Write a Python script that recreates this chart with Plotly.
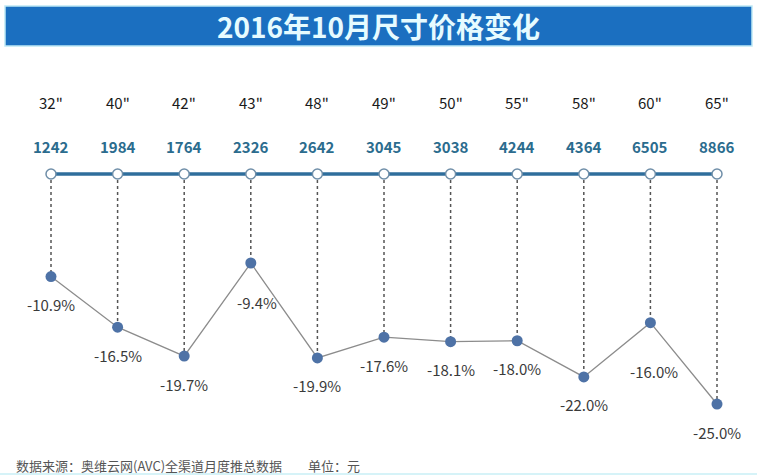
import plotly.graph_objects as go

sizes = ['32"', '40"', '42"', '43"', '48"', '49"', '50"', '55"', '58"', '60"', '65"']
prices = [1242, 1984, 1764, 2326, 2642, 3045, 3038, 4244, 4364, 6505, 8866]
changes = [-10.9, -16.5, -19.7, -9.4, -19.9, -17.6, -18.1, -18.0, -22.0, -16.0, -25.0]

title_text = "2016年10月尺寸价格变化"
source_text = "数据来源：奥维云网(AVC)全渠道月度推总数据　　单位：元"

W, H = 757, 476
FONT = "Noto Sans CJK SC"
BASE = 0.45  # level of the blue price line, in % units

x = list(range(len(sizes)))

# label tweaks where the text is pushed away from the line
label_shift = {3: (6, -39), 9: (4, -49)}

fig = go.Figure()

# dashed drops from the price line to each point
drop_x, drop_y = [], []
for i, c in zip(x, changes):
    drop_x += [i, i, None]
    drop_y += [BASE, c, None]
fig.add_trace(go.Scatter(x=drop_x, y=drop_y, mode="lines",
                         line=dict(color="#555555", width=1.5, dash="dot"),
                         hoverinfo="skip"))

# blue price line with hollow markers
fig.add_trace(go.Scatter(x=x, y=[BASE] * len(x), mode="lines+markers",
                         line=dict(color="#2f6e9c", width=3.5),
                         marker=dict(size=10, color="white",
                                     line=dict(color="#6f8ea8", width=1.5)),
                         hoverinfo="skip"))

# change line
fig.add_trace(go.Scatter(x=x, y=changes, mode="lines+markers",
                         line=dict(color="#8c8c8c", width=1.3),
                         marker=dict(size=11, color="#4e72a6"),
                         hoverinfo="skip"))


def py(px):
    # screen pixel row -> paper fraction
    return 1 - px / H


ann = []
for i, (s, p, c) in enumerate(zip(sizes, prices, changes)):
    ann.append(dict(x=i, y=py(102), xref="x", yref="paper", yanchor="middle", text=s,
                    showarrow=False, font=dict(family=FONT, size=15, color="#1a1a1a")))
    ann.append(dict(x=i, y=py(146), xref="x", yref="paper", yanchor="middle",
                    text=f"<b>{p}</b>", showarrow=False,
                    font=dict(family=FONT, size=15, color="#2b6c8e")))
    dx, dy = label_shift.get(i, (0, -28))
    ann.append(dict(x=i, y=c, xref="x", yref="y", yanchor="middle", text=f"{c:.1f}%",
                    showarrow=False, xshift=dx, yshift=dy,
                    font=dict(family=FONT, size=15, color="#3a3a3a")))

ann.append(dict(x=0.5, y=py(26), xref="paper", yref="paper", yanchor="middle",
                text=f"<b>{title_text}</b>", showarrow=False,
                font=dict(family=FONT, size=28, color="#e6fbff")))
ann.append(dict(x=14 / W, y=py(465), xref="paper", yref="paper", yanchor="middle",
                xanchor="left", text=source_text, showarrow=False,
                font=dict(family=FONT, size=13, color="#555555")))

shapes = [
    dict(type="rect", xref="paper", yref="paper", x0=5 / W, x1=752 / W,
         y0=py(46), y1=py(6), fillcolor="#1b6fc0",
         line=dict(color="#bfe9f5", width=1.5), layer="below"),
    dict(type="line", xref="paper", yref="paper", x0=0, x1=1,
         y0=py(474), y1=py(474), line=dict(color="#d6f3f8", width=2)),
]

# 66.6 px per category, first category at x=51 px
px_per_cat = 66.6
px_per_pct = 9.04
fig.update_layout(
    width=W, height=H,
    margin=dict(l=0, r=0, t=0, b=0),
    paper_bgcolor="white", plot_bgcolor="white",
    showlegend=False, hovermode=False,
    annotations=ann, shapes=shapes,
    xaxis=dict(range=[-51 / px_per_cat, (W - 51) / px_per_cat], visible=False, fixedrange=True),
    yaxis=dict(range=[-9.4 - (H - 263) / px_per_pct, -9.4 + 263 / px_per_pct],
               visible=False, fixedrange=True),
)

fig.write_html("out.html", config={"displayModeBar": False},
               post_script="document.body.style.margin='0';document.body.style.overflow='hidden';")
